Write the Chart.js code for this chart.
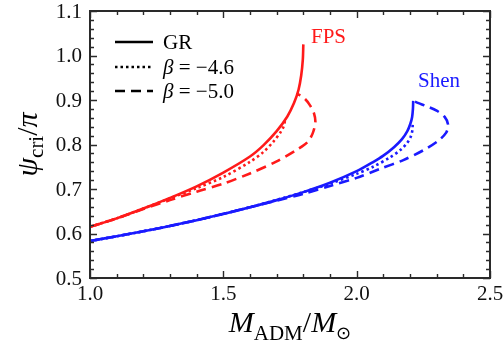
<!DOCTYPE html>
<html>
<head>
<meta charset="utf-8">
<script src="https://cdn.jsdelivr.net/npm/chart.js@4"></script>
<style>
  html, body { margin: 0; padding: 0; background: #fff; }
  #wrap { width: 503px; height: 352px; }
</style>
</head>
<body>
<div id="wrap"><canvas id="psiChart" width="503" height="352"></canvas></div>
<script>
// values
const xTicks = [1.0, 1.5, 2.0, 2.5];
const yTicks = [0.5, 0.6, 0.7, 0.8, 0.9, 1.0, 1.1];

// FPS (red)
const fpsGrX = [1.0, 1.1, 1.2, 1.3, 1.4, 1.5, 1.6, 1.65, 1.7, 1.74, 1.765, 1.782, 1.792, 1.798, 1.80];
const fpsGrY = [0.615, 0.634, 0.656, 0.680, 0.706, 0.737, 0.773, 0.798, 0.830, 0.863, 0.893, 0.923, 0.955, 0.99, 1.025];
const fps46X = [1.0, 1.1, 1.2, 1.3, 1.4, 1.5, 1.6, 1.65, 1.69, 1.715, 1.727, 1.731];
const fps46Y = [0.615, 0.634, 0.656, 0.679, 0.702, 0.727, 0.761, 0.783, 0.808, 0.828, 0.842, 0.853];
const fps50X = [1.0, 1.1, 1.2, 1.3, 1.4, 1.5, 1.6, 1.7, 1.775, 1.815, 1.835, 1.845, 1.840, 1.825, 1.805, 1.775];
const fps50Y = [0.615, 0.634, 0.655, 0.675, 0.694, 0.712, 0.735, 0.762, 0.788, 0.805, 0.825, 0.850, 0.870, 0.888, 0.903, 0.915];

// Shen (blue)
const shenGrX = [1.0, 1.1, 1.2, 1.3, 1.4, 1.5, 1.6, 1.7, 1.8, 1.9, 2.0, 2.06, 2.1, 2.14, 2.17, 2.19, 2.201, 2.208, 2.211, 2.212];
const shenGrY = [0.583, 0.594, 0.605, 0.617, 0.630, 0.644, 0.659, 0.675, 0.693, 0.714, 0.740, 0.760, 0.775, 0.794, 0.812, 0.830, 0.846, 0.862, 0.880, 0.898];
const shen46X = [1.0, 1.2, 1.4, 1.6, 1.8, 1.9, 2.0, 2.062, 2.125, 2.165, 2.19, 2.203, 2.209, 2.21];
const shen46Y = [0.583, 0.605, 0.630, 0.659, 0.693, 0.712, 0.734, 0.750, 0.771, 0.788, 0.804, 0.818, 0.832, 0.844];
const shen50X = [1.0, 1.2, 1.4, 1.6, 1.7, 1.8, 1.9, 2.0, 2.087, 2.175, 2.25, 2.305, 2.335, 2.343, 2.33, 2.3, 2.262, 2.232, 2.212];
const shen50Y = [0.583, 0.605, 0.630, 0.659, 0.674, 0.689, 0.707, 0.725, 0.745, 0.765, 0.787, 0.808, 0.826, 0.844, 0.862, 0.876, 0.886, 0.893, 0.898];

const legendLabels = ['GR', 'β = −4.6', 'β = −5.0'];
const lineDashes = [[], [2.5, 3], [10, 6]];

function pts(xs, ys) {
    return xs.map((x, i) => ({ x: x, y: ys[i] }));
}

function series(xs, ys, color, dash) {
    return {
        data: pts(xs, ys),
        borderColor: color,
        borderWidth: 2.6,
        borderDash: dash,
        borderCapStyle: 'butt',
        showLine: true,
        pointRadius: 0,
        tension: 0.3,
        fill: false
    };
}

const RED = '#ff1a1a';
const BLUE = '#1a1aff';
const SERIF = '"Liberation Serif", "Times New Roman", serif';

// box, inward ticks, tick labels, legend, labels and axis titles
const decorations = {
    id: 'decorations',
    afterDraw(chart) {
        const c = chart.ctx;
        const a = chart.chartArea;
        const xs = chart.scales.x;
        const ys = chart.scales.y;
        c.save();

        c.strokeStyle = '#2a2a2a';
        c.lineWidth = 1.4;
        c.beginPath();
        for (let v = 10; v <= 25; v++) {
            const px = Math.round(xs.getPixelForValue(v / 10)) + 0.5;
            const len = v % 5 === 0 ? 7 : 4;
            c.moveTo(px, a.bottom); c.lineTo(px, a.bottom - len);
            c.moveTo(px, a.top); c.lineTo(px, a.top + len);
        }
        for (let v = 25; v <= 55; v++) {
            const py = Math.round(ys.getPixelForValue(v / 50)) + 0.5;
            const len = v % 5 === 0 ? 7 : 4;
            c.moveTo(a.left, py); c.lineTo(a.left + len, py);
            c.moveTo(a.right, py); c.lineTo(a.right - len, py);
        }
        c.stroke();

        c.lineWidth = 2;
        c.strokeRect(a.left, a.top, a.right - a.left, a.bottom - a.top);

        // tick labels
        c.fillStyle = '#111';
        c.font = '21px ' + SERIF;
        c.textAlign = 'right';
        c.textBaseline = 'middle';
        yTicks.forEach(v => c.fillText(v.toFixed(1), a.left - 8, ys.getPixelForValue(v) + 1));
        c.textAlign = 'center';
        c.textBaseline = 'alphabetic';
        xTicks.forEach(v => c.fillText(v.toFixed(1), xs.getPixelForValue(v), a.bottom + 22));
        c.textAlign = 'left';

        // legend
        c.strokeStyle = '#000';
        c.lineWidth = 2.6;
        c.lineCap = 'butt';
        c.fillStyle = '#000';
        const rows = [42, 67, 91];
        legendLabels.forEach((lab, i) => {
            c.setLineDash(lineDashes[i]);
            c.beginPath();
            c.moveTo(115, rows[i]);
            c.lineTo(153, rows[i]);
            c.stroke();
            c.setLineDash([]);
            if (i === 0) {
                c.font = '21px ' + SERIF;
                c.fillText(lab, 163, rows[i] + 7);
            } else {
                c.font = 'italic 21px ' + SERIF;
                c.fillText('β', 163, rows[i] + 7);
                const w = c.measureText('β').width;
                c.font = '21px ' + SERIF;
                c.fillText(lab.slice(1), 163 + w, rows[i] + 7);
            }
        });

        // curve labels
        c.font = '21px ' + SERIF;
        c.fillStyle = RED;
        c.fillText('FPS', 311, 43);
        c.fillStyle = BLUE;
        c.fillText('Shen', 418, 87);

        // x title
        c.fillStyle = '#000';
        const bigI = 'italic 30px ' + SERIF;
        const sub = '21px ' + SERIF;
        const partsX = [
            [bigI, 'M', 0], [sub, 'ADM', 8], ['30px ' + SERIF, '/', 0], [bigI, 'M', 0], ['18px "DejaVu Sans"', '⊙', 7]
        ];
        let total = 0;
        partsX.forEach(p => { c.font = p[0]; total += c.measureText(p[1]).width; });
        let x0 = (a.left + a.right) / 2 - total / 2;
        partsX.forEach(p => {
            c.font = p[0];
            c.fillText(p[1], x0, 332 + p[2]);
            x0 += c.measureText(p[1]).width;
        });

        // y title (rotated)
        const partsY = [
            [bigI, 'ψ', 0], [sub, 'cri', 6], ['30px ' + SERIF, '/', 0], [bigI, 'π', 0]
        ];
        total = 0;
        partsY.forEach(p => { c.font = p[0]; total += c.measureText(p[1]).width; });
        c.translate(37, (a.top + a.bottom) / 2);
        c.rotate(-Math.PI / 2);
        let t0 = -total / 2;
        partsY.forEach(p => {
            c.font = p[0];
            c.fillText(p[1], t0, p[2]);
            t0 += c.measureText(p[1]).width;
        });

        c.restore();
    }
};

const ctx = document.getElementById('psiChart').getContext('2d');
const psiChart = new Chart(ctx, {
    type: 'scatter',
    data: {
        datasets: [
            series(fpsGrX, fpsGrY, RED, lineDashes[0]),
            series(fps46X, fps46Y, RED, lineDashes[1]),
            series(fps50X, fps50Y, RED, lineDashes[2]),
            series(shenGrX, shenGrY, BLUE, lineDashes[0]),
            series(shen46X, shen46Y, BLUE, lineDashes[1]),
            series(shen50X, shen50Y, BLUE, lineDashes[2])
        ]
    },
    options: {
        responsive: false,
        animation: false,
        devicePixelRatio: 1,
        layout: { padding: { top: 11, right: 13, left: 0, bottom: 0 } },
        plugins: { legend: { display: false }, tooltip: { enabled: false } },
        scales: {
            x: {
                type: 'linear',
                min: xTicks[0],
                max: xTicks[xTicks.length - 1],
                afterFit: s => { s.height = 74; },
                grid: { display: false, drawTicks: false },
                border: { display: false },
                ticks: { display: false }
            },
            y: {
                type: 'linear',
                min: yTicks[0],
                max: yTicks[yTicks.length - 1],
                afterFit: s => { s.width = 90; },
                grid: { display: false, drawTicks: false },
                border: { display: false },
                ticks: { display: false }
            }
        }
    },
    plugins: [decorations]
});
</script>
</body>
</html>
